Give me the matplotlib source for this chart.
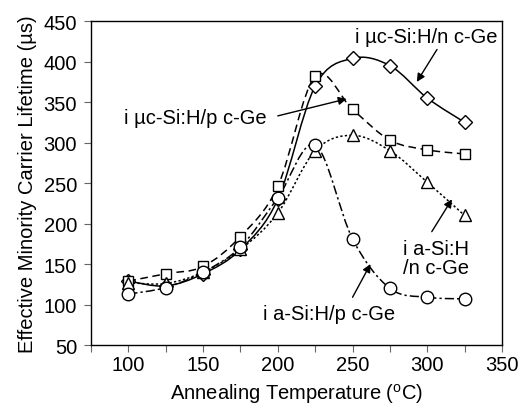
import matplotlib.pyplot as plt
from matplotlib.path import Path
from matplotlib.patches import PathPatch

plt.rcParams["font.family"] = "Liberation Sans"
plt.rcParams["mathtext.fontset"] = "custom"
plt.rcParams["mathtext.rm"] = "Liberation Sans"

# Data
temps = [100, 125, 150, 175, 200, 225, 250, 275, 300, 325]
mc_n = [129, 123, 138, 168, 230, 370, 404, 395, 355, 325]   # diamonds
mc_p = [129, 138, 147, 184, 246, 382, 341, 303, 291, 286]   # squares
a_n = [127, 126, 140, 168, 213, 290, 309, 290, 251, 210]    # triangles
a_p = [113, 121, 140, 171, 232, 297, 181, 120, 109, 107]    # circles


def smooth_path(xs, ys):
    """Catmull-Rom style bezier through the points (like a smoothed line)"""
    pts = list(zip(xs, ys))
    verts = [pts[0]]
    codes = [Path.MOVETO]
    n = len(pts)
    for i in range(n - 1):
        p0 = pts[i - 1] if i > 0 else pts[i]
        p1 = pts[i]
        p2 = pts[i + 1]
        p3 = pts[i + 2] if i + 2 < n else pts[i + 1]
        c1 = (p1[0] + (p2[0] - p0[0]) / 6, p1[1] + (p2[1] - p0[1]) / 6)
        c2 = (p2[0] - (p3[0] - p1[0]) / 6, p2[1] - (p3[1] - p1[1]) / 6)
        verts += [c1, c2, p2]
        codes += [Path.CURVE4] * 3
    return Path(verts, codes)


def main():
    fig = plt.figure(figsize=(5.29, 4.10), dpi=100)
    ax = fig.add_axes([0.172, 0.156, 0.777, 0.790])

    series = [
        (mc_n, "D", 7, "-"),
        (mc_p, "s", 7, (0, (5, 3))),
        (a_n, "^", 9, (0, (1.5, 1.5))),
        (a_p, "o", 9, (0, (6, 2, 1.5, 2))),
    ]
    for vals, mk, ms, ls in series:
        patch = PathPatch(smooth_path(temps, vals), facecolor="none",
                          edgecolor="black", lw=1.1, linestyle=ls, zorder=2)
        ax.add_patch(patch)
        ax.plot(temps, vals, linestyle="none", marker=mk, markersize=ms,
                markerfacecolor="white", markeredgecolor="black",
                markeredgewidth=1.0, zorder=3)

    ax.set_xlim(75, 350)
    ax.set_ylim(50, 450)
    ax.set_xticks(range(100, 351, 50))
    ax.set_xticks(range(75, 351, 25), minor=True)
    ax.set_yticks(range(50, 451, 50))
    ax.tick_params(axis="both", which="both", direction="out", labelsize=14.5,
                   length=5, width=0.8, color="#666666")
    ax.tick_params(axis="x", pad=2)
    ax.tick_params(axis="y", pad=5)
    for sp in ax.spines.values():
        sp.set_linewidth(1.0)

    ax.set_xlabel("Annealing Temperature ($^{\\rm o}$C)", fontsize=14.5,
                  labelpad=5)
    ax.set_ylabel("Effective Minority Carrier Lifetime (\u00b5s)",
                  fontsize=14.5, labelpad=5)

    arrow = dict(arrowstyle="-|>", color="black", lw=1.0,
                 mutation_scale=12, shrinkA=0, shrinkB=0)
    ax.annotate("", xy=(293, 375), xytext=(306.5, 415), arrowprops=arrow)
    ax.text(299, 431, "i \u00b5c-Si:H/n c-Ge", fontsize=14.5,
            ha="center", va="center")
    ax.annotate("", xy=(246, 354), xytext=(200, 333), arrowprops=arrow)
    ax.text(145, 331, "i \u00b5c-Si:H/p c-Ge", fontsize=14.5,
            ha="center", va="center")
    ax.annotate("", xy=(316.5, 230), xytext=(303, 190), arrowprops=arrow)
    ax.text(306, 158, "i a-Si:H\n/n c-Ge", fontsize=14.5, ha="center",
            va="center", linespacing=1.0)
    ax.annotate("", xy=(262, 150), xytext=(250, 109), arrowprops=arrow)
    ax.text(234, 89, "i a-Si:H/p c-Ge", fontsize=14.5, ha="center",
            va="center")

    fig.savefig("out.png", dpi=100)
    return 0


if __name__ == "__main__":
    main()
